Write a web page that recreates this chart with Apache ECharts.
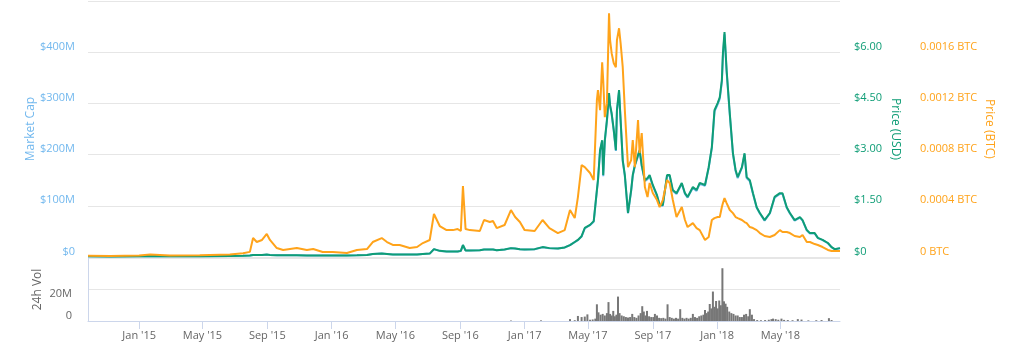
<!DOCTYPE html>
<html><head><meta charset="utf-8">
<script src="https://cdn.jsdelivr.net/npm/echarts@6/dist/echarts.min.js"></script>
<style>html,body{margin:0;padding:0;background:#fff}#c{width:1024px;height:362px}</style>
</head><body><div id="c"></div>
<script>
const dates = [
'2014-09-26','2014-11-07','2015-01-01','2015-01-22','2015-02-28','2015-04-26','2015-06-22','2015-07-17','2015-07-30','2015-08-05',
'2015-08-12','2015-08-22','2015-08-31','2015-09-06','2015-09-19','2015-10-01','2015-10-27','2015-11-15','2015-11-27','2015-12-15',
'2016-01-03','2016-01-30','2016-02-18','2016-03-08','2016-03-19','2016-04-05','2016-04-15','2016-04-26','2016-05-09','2016-05-28',
'2016-06-11','2016-06-22','2016-07-05','2016-07-13','2016-07-24','2016-08-06','2016-08-18','2016-08-27','2016-09-02','2016-09-06',
'2016-09-11','2016-09-19','2016-10-08','2016-10-16','2016-10-27','2016-11-02','2016-11-09','2016-11-24','2016-12-06','2016-12-14',
'2016-12-23','2017-01-01','2017-01-20','2017-02-04','2017-02-17','2017-03-05','2017-03-18','2017-03-28','2017-04-06','2017-04-12',
'2017-04-19','2017-04-25','2017-05-05','2017-05-12','2017-05-18','2017-05-20','2017-05-24','2017-05-28','2017-05-30','2017-06-02',
'2017-06-06','2017-06-10','2017-06-12','2017-06-15','2017-06-19','2017-06-23','2017-06-25','2017-06-29','2017-07-02','2017-07-06',
'2017-07-10','2017-07-16','2017-07-22','2017-07-25','2017-07-29','2017-08-04','2017-08-07','2017-08-11','2017-08-17','2017-08-22',
'2017-08-26','2017-09-01','2017-09-09','2017-09-14','2017-09-20','2017-09-28','2017-10-03','2017-10-09','2017-10-16','2017-10-26',
'2017-11-01','2017-11-06','2017-11-16','2017-11-23','2017-11-29','2017-12-09','2017-12-16','2017-12-22','2017-12-27','2018-01-02',
'2018-01-06','2018-01-10','2018-01-12','2018-01-15','2018-01-19','2018-01-25','2018-01-31','2018-02-05','2018-02-09','2018-02-17',
'2018-02-22','2018-02-26','2018-03-04','2018-03-10','2018-03-17','2018-03-23','2018-04-01','2018-04-11','2018-04-20','2018-04-30',
'2018-05-05','2018-05-13','2018-05-19','2018-05-28','2018-06-07','2018-06-12','2018-06-20','2018-06-26','2018-07-05','2018-07-11',
'2018-07-20','2018-07-30','2018-08-06','2018-08-12','2018-08-22'];

const priceUSD = [
0.02,0.015,0.02,0.03,0.02,0.02,0.03,0.035,0.045,0.06,
0.06,0.06,0.07,0.06,0.05,0.05,0.05,0.047,0.047,0.044,
0.044,0.044,0.05,0.06,0.09,0.10,0.09,0.073,0.073,0.073,
0.073,0.09,0.10,0.23,0.18,0.16,0.16,0.16,0.18,0.35,
0.19,0.19,0.20,0.22,0.22,0.22,0.20,0.22,0.26,0.25,
0.23,0.22,0.23,0.29,0.26,0.25,0.28,0.35,0.44,0.50,
0.61,0.85,0.94,1.05,1.96,2.25,3.13,3.42,2.40,3.42,
4.01,4.80,4.45,4.21,3.72,3.13,4.30,4.89,4.01,2.84,
2.40,1.29,1.96,2.40,2.69,2.99,3.13,2.69,2.25,2.31,
2.40,2.11,1.81,1.52,1.52,2.40,2.40,1.96,1.87,2.17,
1.87,1.76,2.05,1.96,2.17,2.11,2.63,3.22,4.30,4.51,
4.68,5.18,5.97,6.59,5.47,4.21,3.04,2.55,2.34,2.63,
3.04,2.34,2.25,1.87,1.46,1.29,1.08,1.29,1.76,1.87,
1.87,1.46,1.29,1.08,1.17,1.08,0.79,0.70,0.70,0.56,
0.50,0.41,0.29,0.23,0.26];

const priceBTC = [
0.00001,0.000008,0.000012,0.00002,0.000012,0.000013,0.00002,0.00003,0.00004,0.000148,
0.000117,0.000133,0.00018,0.000133,0.00007,0.000055,0.00007,0.000055,0.000062,0.000039,
0.000039,0.000031,0.000055,0.000062,0.000117,0.000148,0.000117,0.000094,0.000094,0.00007,
0.000078,0.000109,0.000133,0.000336,0.000242,0.00021,0.00021,0.000218,0.000203,0.000554,
0.000218,0.00021,0.000203,0.000289,0.000273,0.000281,0.000226,0.00025,0.000367,0.000312,
0.000273,0.00021,0.000203,0.000289,0.000226,0.000187,0.00021,0.000367,0.000304,0.000468,
0.000718,0.000702,0.000656,0.000601,0.001225,0.001303,0.001147,0.001522,0.001381,0.001093,
0.001202,0.001904,0.001694,0.001592,0.001514,0.001483,0.001694,0.001787,0.00167,0.001483,
0.001147,0.000702,0.000757,0.000913,0.000702,0.001069,0.000812,0.000968,0.000546,0.000468,
0.000578,0.0005,0.000445,0.00039,0.000445,0.000601,0.000578,0.000445,0.000312,0.00039,
0.000289,0.000234,0.000265,0.000226,0.00021,0.000133,0.000156,0.000289,0.000304,0.000312,
0.000312,0.00039,0.000421,0.00046,0.000421,0.000367,0.000343,0.000312,0.000304,0.000289,
0.000273,0.000265,0.000234,0.000226,0.00021,0.000187,0.000164,0.000156,0.000172,0.00021,
0.000195,0.000195,0.000187,0.000164,0.000156,0.000172,0.000117,0.000117,0.000101,0.000094,
0.000078,0.000055,0.000047,0.000047,0.000047];

const marketCapM = [
1.3,1.0,1.3,2.0,1.3,1.3,2.0,2.3,3.0,4.0,
4.0,4.0,4.6,4.0,3.3,3.3,3.3,3.1,3.1,2.9,
2.9,2.9,3.3,4.0,5.9,6.6,5.9,4.8,4.8,4.8,
4.8,5.9,6.6,15.2,11.9,10.6,10.6,10.6,11.9,23.1,
12.5,12.5,13.2,14.5,14.5,14.5,13.2,14.5,17.2,16.5,
15.2,14.5,15.2,19.1,17.2,16.5,18.5,23.1,29,33,
40,56,62,69,129,148,207,226,158,226,
265,317,294,278,246,207,284,323,265,187,
158,85,129,158,178,197,207,178,148,152,
158,139,119,100,100,158,158,129,123,143,
123,116,135,129,143,139,174,213,284,298,
309,342,394,435,361,278,201,168,154,174,
201,154,148,123,96,85,71,85,116,123,
123,96,85,71,77,71,52,46,46,37,
33,27,19,15,17];

const volDates = [
'2016-12-06','2017-02-01','2017-03-28','2017-04-06','2017-04-12','2017-04-19','2017-04-25','2017-04-30','2017-05-05','2017-05-10',
'2017-05-15','2017-05-18','2017-05-21','2017-05-25','2017-05-29','2017-06-02','2017-06-06','2017-06-09','2017-06-12','2017-06-15',
'2017-06-18','2017-06-21','2017-06-24','2017-06-27','2017-06-30','2017-07-04','2017-07-08','2017-07-12','2017-07-16','2017-07-20',
'2017-07-24','2017-07-28','2017-08-01','2017-08-05','2017-08-09','2017-08-12','2017-08-15','2017-08-18','2017-08-21','2017-08-25',
'2017-08-29','2017-09-02','2017-09-05','2017-09-09','2017-09-13','2017-09-17','2017-09-21','2017-09-25','2017-09-29','2017-10-03',
'2017-10-07','2017-10-11','2017-10-15','2017-10-19','2017-10-23','2017-10-27','2017-10-31','2017-11-04','2017-11-08','2017-11-12',
'2017-11-16','2017-11-20','2017-11-24','2017-11-28','2017-12-02','2017-12-06','2017-12-09','2017-12-12','2017-12-15','2017-12-18',
'2017-12-21','2017-12-24','2017-12-27','2017-12-30','2018-01-02','2018-01-05','2018-01-08','2018-01-11','2018-01-14','2018-01-17',
'2018-01-20','2018-01-24','2018-01-28','2018-02-01','2018-02-05','2018-02-09','2018-02-13','2018-02-17','2018-02-21','2018-02-25',
'2018-03-01','2018-03-04','2018-03-08','2018-03-12','2018-03-18','2018-03-25','2018-04-02','2018-04-09','2018-04-14','2018-04-17',
'2018-04-22','2018-04-27','2018-05-03','2018-05-08','2018-05-15','2018-05-24','2018-06-03','2018-06-10','2018-06-23','2018-07-08',
'2018-07-18','2018-08-01','2018-08-06'];
const volumeM = [
0.3,0.4,1.2,0.5,3.2,2.5,2.8,4.2,0.8,1.0,
1.5,10.6,5.5,4.0,4.5,3.5,5,12,4.5,3.5,
6.4,3,4,15.5,5,3.5,3,2.5,2.2,2.5,
4.5,2.5,2,3.5,5,9.4,6,3.5,6.4,3,
2.5,2.5,4.5,3.5,2,1.8,2,1.5,10.6,2.5,
2,1.5,2,1.5,7.5,2,1.5,2,1.5,2,
4.5,2.5,2,3,3.5,4,7,5,6,10.8,
8,18.7,9,12.7,8,13,10,33.5,12.5,11,
9,6,5,4.5,3.5,3.5,2.5,2.5,4,4.5,
3,7.5,4,1.2,0.6,0.5,0.6,0.8,1.2,1.5,
1.2,0.8,1.5,0.7,0.6,0.5,1.2,0.9,0.4,0.5,
0.6,1.8,0.6];

const tickDates = ['2015-01-01','2015-05-01','2015-09-01','2016-01-01','2016-05-01','2016-09-01','2017-01-01','2017-05-01','2017-09-01','2018-01-01','2018-05-01'];
const tickLabels = ["Jan '15","May '15","Sep '15","Jan '16","May '16","Sep '16","Jan '17","May '17","Sep '17","Jan '18","May '18"];

const xMin = '2014-09-26', xMax = '2018-08-22';
const ts = d => Date.UTC(+d.slice(0, 4), +d.slice(5, 7) - 1, +d.slice(8, 10));
const tickTs = tickDates.map(ts);
const pair = (xs, ys) => xs.map((d, i) => [ts(d), ys[i]]);

const C_MC = '#72b8ee', C_USD = '#0f9d76', C_BTC = '#ffa31a', C_GREY = '#666666';
const FONT = 'Open Sans';

const chart = echarts.init(document.getElementById('c'), null, {renderer: 'canvas'});
chart.setOption({
  animation: false,
  textStyle: {fontFamily: FONT},
  grid: [
    {left: 88, right: 184, top: 1, height: 256},
    {left: 88, right: 184, top: 258, height: 63}
  ],
  xAxis: [
    {type: 'value', gridIndex: 0, min: ts(xMin), max: ts(xMax), show: false, splitLine: {show: false}},
    {type: 'value', gridIndex: 1, min: ts(xMin), max: ts(xMax),
     axisLine: {show: true, lineStyle: {color: '#ccd6eb'}},
     axisTick: {show: true, customValues: tickTs, length: 8, lineStyle: {color: '#ccd6eb'}},
     axisLabel: {customValues: tickTs, color: C_GREY, fontSize: 11, fontFamily: FONT, margin: 9,
       formatter: v => { const i = tickTs.indexOf(v); return i >= 0 ? tickLabels[i] : ''; }},
     splitLine: {show: false}}
  ],
  yAxis: [
    {type: 'value', gridIndex: 0, position: 'left', min: 0, max: 500, interval: 100,
     axisLine: {show: false}, axisTick: {show: false},
     axisLabel: {color: C_MC, fontSize: 11, fontFamily: FONT, margin: 13, verticalAlign: 'bottom',
       formatter: v => v >= 500 ? '' : (v === 0 ? '$0' : '$' + v + 'M')},
     splitLine: {lineStyle: {color: '#e6e6e6'}},
     name: 'Market Cap', nameLocation: 'middle', nameGap: 51, nameMoveOverlap: false,
     nameTextStyle: {color: C_MC, fontSize: 12, fontFamily: FONT}},
    {type: 'value', gridIndex: 0, position: 'right', min: 0, max: 7.5, interval: 1.5,
     axisLine: {show: false}, axisTick: {show: false}, splitLine: {show: false},
     axisLabel: {color: C_USD, fontSize: 11, fontFamily: FONT, margin: 14, verticalAlign: 'bottom',
       formatter: v => v >= 7.5 ? '' : (v === 0 ? '$0' : '$' + v.toFixed(2))},
     name: 'Price (USD)', nameLocation: 'middle', nameGap: 49, nameRotate: -90, nameMoveOverlap: false,
     nameTextStyle: {color: C_USD, fontSize: 12, fontFamily: FONT}},
    {type: 'value', gridIndex: 0, position: 'right', offset: 66, min: 0, max: 0.002, interval: 0.0004,
     axisLine: {show: false}, axisTick: {show: false}, splitLine: {show: false},
     axisLabel: {color: C_BTC, fontSize: 11, fontFamily: FONT, margin: 14, verticalAlign: 'bottom',
       formatter: v => v >= 0.00199 ? '' : (v === 0 ? '0 BTC' : v.toFixed(4) + ' BTC')},
     name: 'Price (BTC)', nameLocation: 'middle', nameGap: 77, nameRotate: -90, nameMoveOverlap: false,
     nameTextStyle: {color: C_BTC, fontSize: 12, fontFamily: FONT}},
    {type: 'value', gridIndex: 1, position: 'left', min: 0, max: 40, interval: 20,
     axisLine: {show: true, lineStyle: {color: '#ccd6eb'}}, axisTick: {show: false},
     axisLabel: {color: C_GREY, fontSize: 11, fontFamily: FONT, margin: 16, verticalAlign: 'middle',
       formatter: v => v >= 40 ? '' : (v === 0 ? '{z|0}' : '{t|' + v + 'M}'),
       rich: {z: {padding: [0, 0, 10, 0], fontSize: 11, color: C_GREY, fontFamily: FONT},
              t: {padding: [8, 0, 0, 0], fontSize: 11, color: C_GREY, fontFamily: FONT}}},
     splitLine: {lineStyle: {color: '#e6e6e6'}},
     name: '24h Vol', nameLocation: 'middle', nameGap: 44, nameMoveOverlap: false,
     nameTextStyle: {color: C_GREY, fontSize: 12, fontFamily: FONT}}
  ],
  series: [
    {name: 'Market Cap', type: 'line', xAxisIndex: 0, yAxisIndex: 0, data: pair(dates, marketCapM),
     showSymbol: false, lineStyle: {color: C_MC, width: 2}, itemStyle: {color: C_MC}},
    {name: 'Price (USD)', type: 'line', xAxisIndex: 0, yAxisIndex: 1, data: pair(dates, priceUSD),
     showSymbol: false, lineStyle: {color: C_USD, width: 2}, itemStyle: {color: C_USD}},
    {name: 'Price (BTC)', type: 'line', xAxisIndex: 0, yAxisIndex: 2, data: pair(dates, priceBTC),
     showSymbol: false, lineStyle: {color: C_BTC, width: 2}, itemStyle: {color: C_BTC}},
    {name: '24h Vol', type: 'bar', xAxisIndex: 1, yAxisIndex: 3, data: pair(volDates, volumeM),
     barWidth: 2, itemStyle: {color: '#777777'}}
  ]
});
</script>
</body></html>
